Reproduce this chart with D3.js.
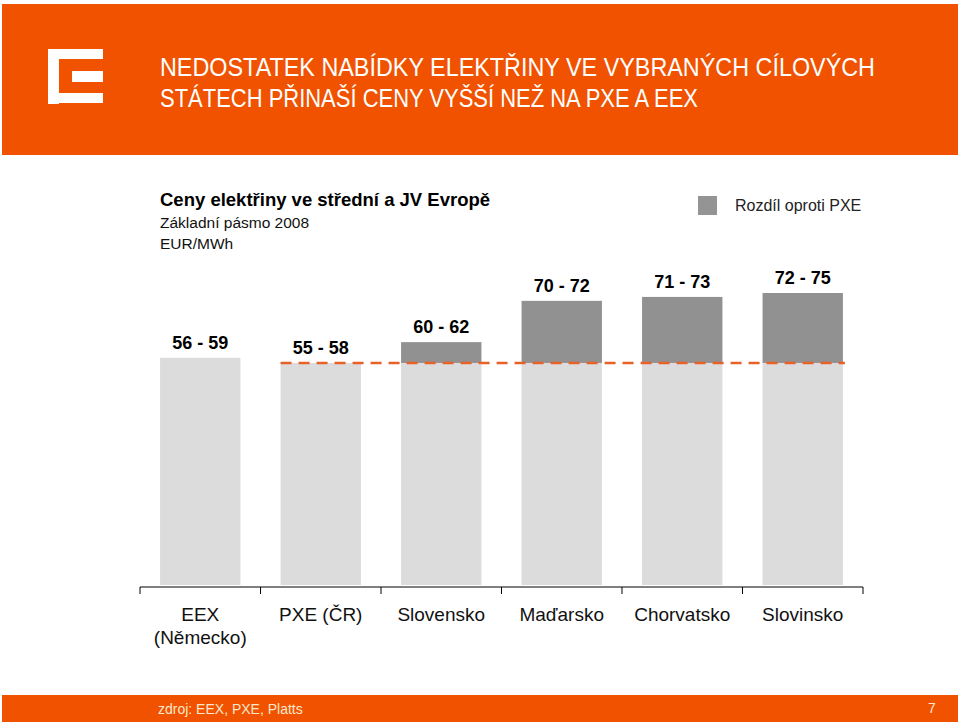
<!DOCTYPE html>
<html><head><meta charset="utf-8">
<script src="https://cdn.jsdelivr.net/npm/d3@7"></script>
<style>html,body{margin:0;padding:0;background:#fff;}svg{display:block;}</style>
</head><body>
<svg id="c" width="960" height="725"></svg>
<script>
const categories = ["EEX|(Německo)", "PXE (ČR)", "Slovensko", "Maďarsko", "Chorvatsko", "Slovinsko"];
const baseValues = [57.8, 56.5, 56.5, 56.5, 56.5, 56.5];
const diffValues = [0, 0, 5.3, 15.8, 16.8, 17.8];
const rangeLabels = ["56 - 59", "55 - 58", "60 - 62", "70 - 72", "71 - 73", "72 - 75"];
const pxeLevel = 56.5;
const titleLines = ["NEDOSTATEK NABÍDKY ELEKTŘINY VE VYBRANÝCH CÍLOVÝCH", "STÁTECH PŘINAŠÍ CENY VYŠŠÍ NEŽ NA PXE A EEX"];

const svg = d3.select("#c");
const ORANGE = "#f05200";
const SANS = "'Liberation Sans', Arial, sans-serif";

// header
svg.append("rect").attr("x",2).attr("y",4).attr("width",956).attr("height",151).attr("fill",ORANGE);
// logo
const lg = svg.append("g").attr("fill","#fff");
lg.append("rect").attr("x",48).attr("y",49).attr("width",11).attr("height",55);
lg.append("rect").attr("x",48).attr("y",49).attr("width",55).attr("height",10);
lg.append("rect").attr("x",48).attr("y",93).attr("width",55).attr("height",10);
lg.append("rect").attr("x",72).attr("y",71).attr("width",31).attr("height",11);
svg.selectAll("text.title").data(titleLines).join("text")
  .attr("class","title").attr("x",160).attr("y",(d,i)=>76+i*31)
  .attr("fill","#fff").attr("font-family",SANS).attr("font-size",26)
  .attr("textLength",(d,i)=> i===0?715:538).attr("lengthAdjust","spacingAndGlyphs")
  .text(d=>d);

// subtitles
svg.append("text").attr("x",160).attr("y",206).attr("font-family",SANS)
  .attr("font-size",18.5).attr("font-weight","bold").attr("fill","#000").text("Ceny elektřiny ve střední a JV Evropě");
svg.append("text").attr("x",160).attr("y",228).attr("font-family",SANS)
  .attr("font-size",15.5).attr("fill","#111").text("Základní pásmo 2008");
svg.append("text").attr("x",160).attr("y",249).attr("font-family",SANS)
  .attr("font-size",15.5).attr("fill","#111").text("EUR/MWh");

// legend
svg.append("rect").attr("x",698).attr("y",196).attr("width",19).attr("height",19).attr("fill","#949494");
svg.append("text").attr("x",735).attr("y",211).attr("font-family",SANS)
  .attr("font-size",16).attr("fill","#222").text("Rozdíl oproti PXE");

// scales
const x = d3.scaleBand().domain(categories).range([140,863]).paddingInner(0.333).paddingOuter(0.1667);
const y = d3.scaleLinear().domain([0,80]).range([585,270.6]);

const rows = categories.map((c,i)=>({c, base:baseValues[i], diff:diffValues[i], label:rangeLabels[i]}));

svg.selectAll("rect.base").data(rows).join("rect").attr("class","base")
  .attr("x",d=>x(d.c)).attr("width",x.bandwidth())
  .attr("y",d=>y(d.base)).attr("height",d=>y(0)-y(d.base)).attr("fill","#dcdcdc");
svg.selectAll("rect.diff").data(rows.filter(d=>d.diff>0)).join("rect").attr("class","diff")
  .attr("x",d=>x(d.c)).attr("width",x.bandwidth())
  .attr("y",d=>y(d.base+d.diff)).attr("height",d=>y(d.base)-y(d.base+d.diff)).attr("fill","#919191");

svg.selectAll("text.val").data(rows).join("text").attr("class","val")
  .attr("x",d=>x(d.c)+x.bandwidth()/2).attr("y",d=>y(d.base+d.diff)-9)
  .attr("text-anchor","middle").attr("font-family",SANS)
  .attr("font-size",18).attr("font-weight","bold").attr("fill","#000").text(d=>d.label);

// dashed PXE line
svg.append("line").attr("x1",x(categories[1])).attr("x2",x(categories[5])+x.bandwidth()+2)
  .attr("y1",y(pxeLevel)).attr("y2",y(pxeLevel))
  .attr("stroke","#e8602a").attr("stroke-width",2.5).attr("stroke-dasharray","11,7");

// axis
const ax = svg.append("g").attr("transform","translate(0,587)");
ax.append("line").attr("x1",140).attr("x2",863).attr("y1",0).attr("y2",0).attr("stroke","#000").attr("stroke-width",1);
const tickPos = categories.map(c=>x(c)-x.step()*x.paddingInner()/2).concat([863]);
ax.selectAll("line.t").data(tickPos).join("line").attr("class","t")
  .attr("x1",d=>d).attr("x2",d=>d).attr("y1",0).attr("y2",7).attr("stroke","#000");
const labs = ax.selectAll("text.cat").data(categories).join("text").attr("class","cat")
  .attr("x",d=>x(d)+x.bandwidth()/2).attr("y",34).attr("text-anchor","middle")
  .attr("font-family",SANS).attr("font-size",19).attr("fill","#111");
labs.each(function(d){
  const parts = d.split("|");
  d3.select(this).selectAll("tspan").data(parts).join("tspan")
    .attr("x",x(d)+x.bandwidth()/2).attr("dy",(p,i)=>i?23:0).text(p=>p);
});

// footer
svg.append("rect").attr("x",2).attr("y",695).attr("width",956).attr("height",27).attr("fill",ORANGE);
svg.append("text").attr("x",158).attr("y",714).attr("font-family",SANS)
  .attr("font-size",14).attr("fill","#fbe8cc").text("zdroj: EEX, PXE, Platts");
svg.append("text").attr("x",932).attr("y",713).attr("text-anchor","middle").attr("font-family",SANS)
  .attr("font-size",14).attr("fill","#fbe8cc").text("7");
</script>
</body></html>
